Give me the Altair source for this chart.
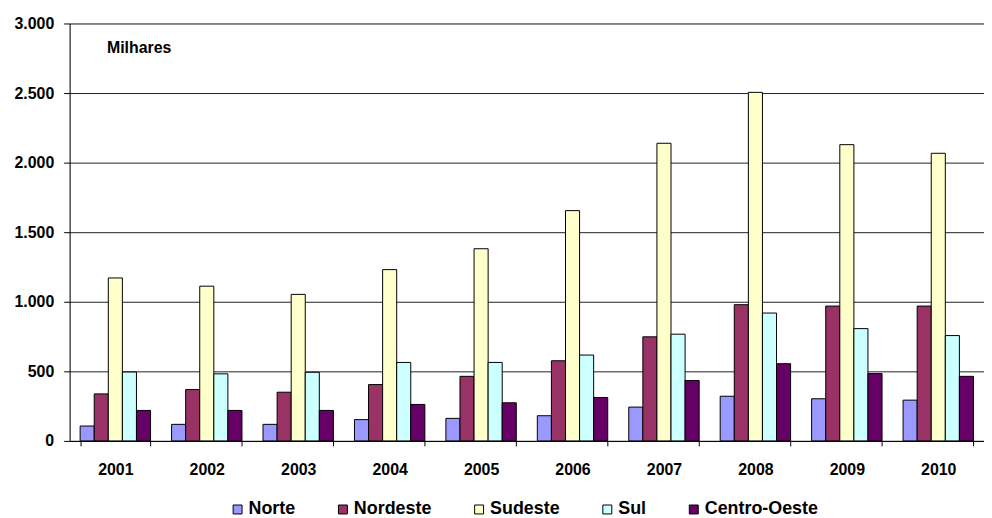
import altair as alt
import pandas as pd

years = ["2001", "2002", "2003", "2004", "2005", "2006", "2007", "2008", "2009", "2010"]
regions = ["Norte", "Nordeste", "Sudeste", "Sul", "Centro-Oeste"]
colors = ["#9999FF", "#993366", "#FFFFCC", "#CCFFFF", "#660066"]

norte = [107, 119, 119, 153, 162, 181, 243, 321, 303, 293]
nordeste = [338, 369, 350, 405, 464, 576, 748, 979, 969, 969]
sudeste = [1171, 1112, 1053, 1231, 1381, 1655, 2139, 2505, 2129, 2067]
sul = [495, 482, 493, 564, 564, 617, 767, 919, 807, 757]
centro_oeste = [219, 219, 219, 262, 274, 312, 434, 555, 484, 464]

series = [norte, nordeste, sudeste, sul, centro_oeste]
rows = []
for r, vals in zip(regions, series):
    for y, v in zip(years, vals):
        rows.append({"ano": y, "regiao": r, "valor": v})
df = pd.DataFrame(rows)

FONT = "Liberation Sans"

chart = alt.Chart(df).mark_bar(stroke="black", strokeWidth=1).encode(
    x=alt.X("ano:N", sort=years,
            scale=alt.Scale(paddingInner=0.23, paddingOuter=0.115),
            axis=alt.Axis(title=None, labelAngle=0, tickBand="extent",
                          labelFont=FONT, labelFontWeight="bold", labelFontSize=16,
                          labelColor="black", labelPadding=16, tickSize=5,
                          tickColor="black", domainColor="black", grid=False)),
    xOffset=alt.XOffset("regiao:N", sort=regions, scale=alt.Scale(paddingInner=0, paddingOuter=0)),
    y=alt.Y("valor:Q",
            scale=alt.Scale(domain=[0, 3000], nice=False),
            axis=alt.Axis(values=[0, 500, 1000, 1500, 2000, 2500, 3000],
                          format=",d", title="Milhares", titleAngle=0,
                          titleX=37, titleY=24, titleAlign="left", titleBaseline="middle",
                          titleFont=FONT, titleFontWeight="bold", titleFontSize=16,
                          titleColor="black",
                          labelFont=FONT, labelFontWeight="bold", labelFontSize=16,
                          labelColor="black", labelPadding=10, tickSize=6,
                          tickColor="black", domainColor="black",
                          grid=True, gridColor="#222222", gridWidth=1)),
    color=alt.Color("regiao:N", sort=regions,
                    scale=alt.Scale(domain=regions, range=colors),
                    legend=alt.Legend(title=None, orient="none", direction="horizontal",
                                      legendX=160, legendY=480, padding=0,
                                      symbolType="square", symbolSize=81,
                                      symbolStrokeColor="black", symbolStrokeWidth=1,
                                      labelFont=FONT, labelFontWeight="bold",
                                      labelFontSize=18, labelColor="black",
                                      labelOffset=2, columnPadding=38)),
).properties(
    width=920, height=420,
    autosize=alt.AutoSizeParams(type="none"),
    padding={"left": 62, "top": 14, "right": 0, "bottom": 76},
).configure_view(stroke=None).configure(
    locale={"number": {"decimal": ",", "thousands": ".", "grouping": [3], "currency": ["R$", ""]}}
)

chart.save("out.html", embed_options={"renderer": "svg", "actions": False})
